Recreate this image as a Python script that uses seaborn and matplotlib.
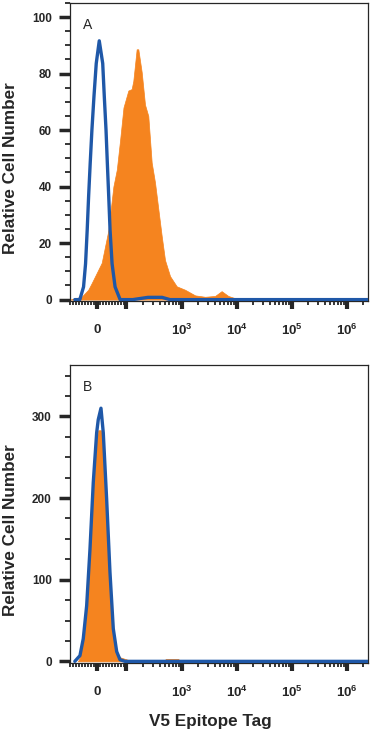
import matplotlib
matplotlib.use('Agg')
import matplotlib.pyplot as plt
import seaborn as sns
import pandas as pd
from matplotlib.ticker import FixedLocator

# Panel A - isotype control (blue line) and V5 staining (orange fill)
blue_a_x = [-75, -58, -45.4, -38.6, -33.1, -28.3, -22.9, -17.1, -10.2, -2.4, 7.8, 19.5, 24.9, 30.7, 35.2,
            39.9, 44.4, 51.2, 61.4, 78.5, 130, 246, 442, 617, 2.46e6]
blue_a_y = [0, 0, 4.5, 12.7, 24.5, 36.4, 48.2, 60, 71.8, 83.6, 91.6, 83.6, 71.8, 60, 48.2,
            36.4, 24.5, 12.7, 4.5, 0, 0, 0.8, 0.8, 0, 0]
orange_a_x = [-91, -81, -52, -29.5, -18, 16, 38.6, 55.6, 67.2, 78.5, 89.8, 108, 124, 133, 153, 164, 189,
              217, 249, 287, 330, 379, 437, 501, 619, 818, 1156, 1766, 2680, 4070, 5350, 7060, 10100, 11600, 2.46e6]
orange_a_y = [0, 0.3, 1, 3.5, 5.8, 13, 24.5, 40, 46, 56.6, 68, 74, 74.5, 77.4, 88.6, 88.6, 80.5,
              69, 65, 48.5, 41.4, 32, 22.4, 14, 8.3, 4.7, 3.5, 1.5, 1, 1.3, 3, 1.3, 0.3, 0, 0]

# Panel B
blue_b_x = [-75, -57.6, -46.4, -34.9, -23.7, -12.5, -1, 4.4, 13.6, 21.4, 32.9, 44.1, 55.3, 66.8, 78, 95, 2.46e6]
blue_b_y = [0, 7, 27.7, 68, 137, 219, 280, 296, 310, 280, 198, 109, 40, 12, 2, 0, 0]
orange_b_x = [-64.4, -57.6, -46.4, -34.9, -23.7, -12.5, -1, 4.4, 13.6, 21.4, 32.9, 44.1, 55.3, 66.8, 78, 95,
              115.8, 142.8, 460, 523, 866, 978, 2.46e6]
orange_b_y = [0, 5, 25, 65, 133, 214, 272, 283, 283, 272, 193, 105, 38, 12, 5, 3, 1, 0, 0, 3, 3, 0, 0]

xtick_vals = [0, 100, 1e3, 1e4, 1e5, 1e6]
xtick_labels = [r'$\mathbf{0}$', '', r'$\mathbf{10^{3}}$', r'$\mathbf{10^{4}}$', r'$\mathbf{10^{5}}$', r'$\mathbf{10^{6}}$']
panel_letters = ['A', 'B']

sns.set_style('ticks')
plt.rcParams['font.family'] = ['Liberation Sans', 'DejaVu Sans']
plt.rcParams['mathtext.fontset'] = 'custom'
plt.rcParams['mathtext.bf'] = 'Liberation Sans:bold'
plt.rcParams['mathtext.rm'] = 'Liberation Sans'

ORANGE = '#f5841f'
BLUE = '#1f58a8'

fig = plt.figure(figsize=(3.7, 7.36), dpi=100)
ax_a = fig.add_axes([0.189, 0.591, 0.806, 0.405])
ax_b = fig.add_axes([0.189, 0.0992, 0.806, 0.405])

# minor x ticks: linear part near zero plus log decades
minor_x = [v for v in range(-90, 100, 10) if v != 0]
for d in [100, 1e3, 1e4, 1e5]:
    minor_x += [m * d for m in range(2, 10)]
minor_x += [2e6]

panels = [
    (ax_a, blue_a_x, blue_a_y, orange_a_x, orange_a_y, (-0.5, 105), 20, 5),
    (ax_b, blue_b_x, blue_b_y, orange_b_x, orange_b_y, (-2, 363), 100, 25),
]

for i, (ax, bx, by, ox, oy, ylim, major, minor) in enumerate(panels):
    ax.set_xscale('symlog', linthresh=100, linscale=0.483)
    ax.fill_between(ox, 0, oy, color=ORANGE, lw=0.5, edgecolor=ORANGE, zorder=2)
    df = pd.DataFrame({'x': bx, 'y': by})
    sns.lineplot(data=df, x='x', y='y', ax=ax, color=BLUE, lw=2.4, estimator=None, sort=False, zorder=3)
    ax.set_xlim(-91.5, 2.46e6)
    ax.set_ylim(*ylim)
    ax.set_xticks(xtick_vals, xtick_labels)
    ax.xaxis.set_minor_locator(FixedLocator(minor_x))
    ax.yaxis.set_major_locator(FixedLocator(list(range(0, int(ylim[1]) + 1, major))))
    ax.yaxis.set_minor_locator(FixedLocator(list(range(0, int(ylim[1]) + 1, minor))))
    ax.tick_params(axis='y', which='major', length=8, width=2.5, labelsize=8.5, pad=5)
    ax.tick_params(axis='y', which='minor', length=3.5, width=1.3)
    ax.tick_params(axis='x', which='major', length=6, width=3, labelsize=9.5, pad=10)
    ax.tick_params(axis='x', which='minor', length=3, width=1.3)
    for lab in ax.get_yticklabels():
        lab.set_fontweight('bold')
    for sp in ax.spines.values():
        sp.set_linewidth(0.9)
    ax.set_xlabel('')
    ax.set_ylabel('Relative Cell Number', fontsize=12.3, fontweight='bold')
    ax.yaxis.label.set_va('center')
    ax.yaxis.set_label_coords(-0.198, 0.445)
    ax.text(0.045, 0.925, panel_letters[i], transform=ax.transAxes, fontsize=10, va='center')

ax_b.set_xlabel('V5 Epitope Tag', fontsize=12.3, fontweight='bold')
ax_b.xaxis.label.set_va('center')
ax_b.xaxis.set_label_coords(0.47, -0.197)

plt.savefig('out.png', dpi=100)
